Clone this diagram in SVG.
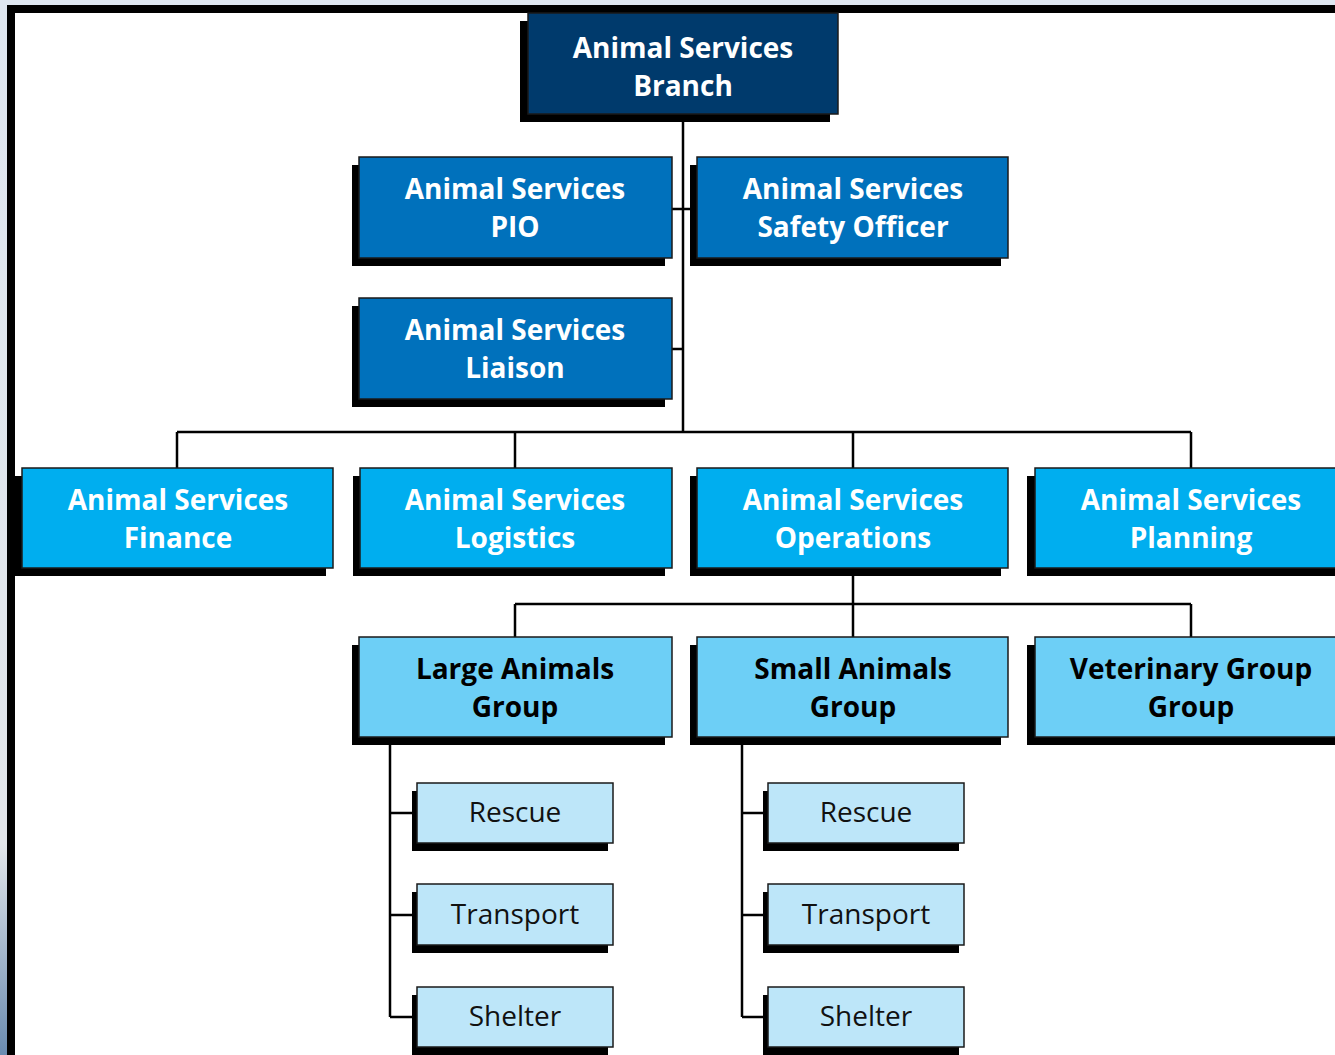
<svg xmlns="http://www.w3.org/2000/svg" width="1335" height="1055" viewBox="0 0 1335 1055">
<defs>
<linearGradient id="side" x1="0" y1="0" x2="0" y2="1">
<stop offset="0" stop-color="#dfe7f1"/>
<stop offset="0.8" stop-color="#e2e6ea"/>
<stop offset="1" stop-color="#6a8bb0"/>
</linearGradient>
<style>
.sh{fill:#000}
.bx{stroke:#1a1a1a;stroke-width:1.5}
.c0{fill:#003a6c}
.c1{fill:#0071bc}
.c2{fill:#00aeef}
.c3{fill:#6dcff6}
.c4{fill:#bde6f9}
.tw{font-family:"Open Sans","Noto Sans",sans-serif;font-weight:700;font-size:28px;fill:#fff;text-anchor:middle}
.tb{font-family:"Open Sans","Noto Sans",sans-serif;font-weight:700;font-size:28px;fill:#000;text-anchor:middle}
.tl{font-family:"Open Sans","Noto Sans",sans-serif;font-weight:400;font-size:28px;fill:#111;text-anchor:middle}
.ln{stroke:#000;stroke-width:2.5;fill:none}
</style>
</defs>
<rect x="0" y="0" width="1335" height="1055" fill="#dfe7f1"/>
<rect x="0" y="0" width="7" height="1055" fill="url(#side)"/>
<rect x="7" y="5" width="1328" height="1050" fill="#000"/>
<rect x="15" y="13" width="1320" height="1042" fill="#fff"/>

<g id="connectors">
<path class="ln" d="M683 114V432M672 209H690M672 349H683M177 432H1191M177 432V468M515 432V468M853 432V468M1191 432V468"/>
<path class="ln" d="M853 568V604M515 604H1191M515 604V637M853 604V637M1191 604V637"/>
<path class="ln" d="M390 737V1017M390 813H412M390 915H412M390 1017H412"/>
<path class="ln" d="M742 737V1017M742 813H763M742 915H763M742 1017H763"/>
</g>

<g id="branch">
<rect class="sh" x="520" y="21" width="310" height="101"/>
<rect class="bx c0" x="528" y="13" width="310" height="101"/>
<text class="tw" x="683" y="58">Animal Services</text>
<text class="tw" x="683" y="96">Branch</text>
</g>
<g id="pio">
<rect class="sh" x="352" y="165" width="313" height="101"/>
<rect class="bx c1" x="359" y="157" width="313" height="101"/>
<text class="tw" x="515" y="199">Animal Services</text>
<text class="tw" x="515" y="237">PIO</text>
</g>
<g id="safety">
<rect class="sh" x="690" y="165" width="311" height="101"/>
<rect class="bx c1" x="697" y="157" width="311" height="101"/>
<text class="tw" x="853" y="199">Animal Services</text>
<text class="tw" x="853" y="237">Safety Officer</text>
</g>
<g id="liaison">
<rect class="sh" x="352" y="306" width="313" height="101"/>
<rect class="bx c1" x="359" y="298" width="313" height="101"/>
<text class="tw" x="515" y="340">Animal Services</text>
<text class="tw" x="515" y="378">Liaison</text>
</g>

<g id="finance">
<rect class="sh" x="15" y="476" width="311" height="100"/>
<rect class="bx c2" x="22" y="468" width="311" height="100"/>
<text class="tw" x="178" y="510">Animal Services</text>
<text class="tw" x="178" y="548">Finance</text>
</g>
<g id="logistics">
<rect class="sh" x="353" y="476" width="312" height="100"/>
<rect class="bx c2" x="360" y="468" width="312" height="100"/>
<text class="tw" x="515" y="510">Animal Services</text>
<text class="tw" x="515" y="548">Logistics</text>
</g>
<g id="operations">
<rect class="sh" x="690" y="476" width="311" height="100"/>
<rect class="bx c2" x="697" y="468" width="311" height="100"/>
<text class="tw" x="853" y="510">Animal Services</text>
<text class="tw" x="853" y="548">Operations</text>
</g>
<g id="planning">
<rect class="sh" x="1027" y="476" width="320" height="100"/>
<rect class="bx c2" x="1035" y="468" width="320" height="100"/>
<text class="tw" x="1191" y="510">Animal Services</text>
<text class="tw" x="1191" y="548">Planning</text>
</g>

<g id="large">
<rect class="sh" x="352" y="645" width="313" height="100"/>
<rect class="bx c3" x="359" y="637" width="313" height="100"/>
<text class="tb" x="515" y="679">Large Animals</text>
<text class="tb" x="515" y="717">Group</text>
</g>
<g id="small">
<rect class="sh" x="690" y="645" width="311" height="100"/>
<rect class="bx c3" x="697" y="637" width="311" height="100"/>
<text class="tb" x="853" y="679">Small Animals</text>
<text class="tb" x="853" y="717">Group</text>
</g>
<g id="veterinary">
<rect class="sh" x="1027" y="645" width="320" height="100"/>
<rect class="bx c3" x="1035" y="637" width="320" height="100"/>
<text class="tb" x="1191" y="679">Veterinary Group</text>
<text class="tb" x="1191" y="717">Group</text>
</g>

<g id="large-rescue">
<rect class="sh" x="412" y="791" width="196" height="60"/>
<rect class="bx c4" x="417" y="783" width="196" height="60"/>
<text class="tl" x="515" y="822">Rescue</text>
</g>
<g id="large-transport">
<rect class="sh" x="412" y="892" width="196" height="61"/>
<rect class="bx c4" x="417" y="884" width="196" height="61"/>
<text class="tl" x="515" y="924">Transport</text>
</g>
<g id="large-shelter">
<rect class="sh" x="412" y="995" width="196" height="60"/>
<rect class="bx c4" x="417" y="987" width="196" height="60"/>
<text class="tl" x="515" y="1026">Shelter</text>
</g>
<g id="small-rescue">
<rect class="sh" x="763" y="791" width="196" height="60"/>
<rect class="bx c4" x="768" y="783" width="196" height="60"/>
<text class="tl" x="866" y="822">Rescue</text>
</g>
<g id="small-transport">
<rect class="sh" x="763" y="892" width="196" height="61"/>
<rect class="bx c4" x="768" y="884" width="196" height="61"/>
<text class="tl" x="866" y="924">Transport</text>
</g>
<g id="small-shelter">
<rect class="sh" x="763" y="995" width="196" height="60"/>
<rect class="bx c4" x="768" y="987" width="196" height="60"/>
<text class="tl" x="866" y="1026">Shelter</text>
</g>
</svg>
